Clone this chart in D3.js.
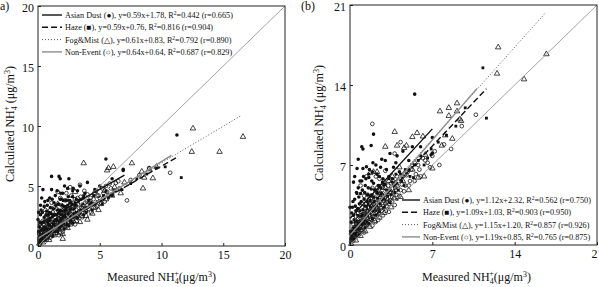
<!DOCTYPE html>
<html>
<head>
<meta charset="utf-8">
<script src="https://cdn.jsdelivr.net/npm/d3@7"></script>
<style>
  body { margin: 0; background: #fff; }
  svg text { font-family: "Liberation Serif", "Times New Roman", serif; fill: #111; }
</style>
</head>
<body>
<svg width="599" height="287"></svg>
<script>
// ---- panel (a) data ----
const ticksA = [0, 5, 10, 15, 20];
const nonA = [[0.1,0.5],[0.2,0.9],[0.3,0.4],[0.3,1.2],[0.4,0.8],[0.5,1.5],[0.5,0.6],[0.6,1.0],[0.7,1.9],[0.7,0.5],
  [0.8,1.3],[0.9,0.9],[0.9,2.2],[1.0,1.6],[1.0,0.7],[1.1,1.2],[1.2,2.0],[1.2,2.8],[1.3,1.0],[1.3,1.6],[1.4,2.4],
  [1.5,1.3],[1.5,3.1],[1.6,1.9],[1.7,0.9],[1.7,2.6],[1.8,1.5],[1.9,2.2],[1.9,3.4],[2.0,1.8],[2.0,1.2],[2.1,2.7],
  [2.2,2.0],[2.2,3.8],[2.3,1.6],[2.4,2.4],[2.5,3.0],[2.5,1.9],[2.6,2.6],[2.7,4.2],[2.8,2.2],[2.9,3.3],[3.0,2.5],
  [3.0,1.8],[3.1,3.0],[3.2,4.0],[3.3,2.7],[3.4,5.1],[3.5,3.2],[3.6,2.4],[3.8,3.6],[3.9,2.9],[4.0,4.3],[4.2,3.4],
  [4.3,2.8],[4.5,3.9],[4.7,4.6],[4.8,3.3],[5.0,4.0],[5.2,4.8],[5.4,3.7],[5.6,4.5],[5.8,5.2],[6.0,4.3],[6.3,5.25],
  [6.6,4.8],[7.2,3.8],[7.5,5.5],[8.2,5.9],[9.0,6.5],[10.7,6.1],[2.6,4.9],[1.6,4.5],[0.6,3.0],[1.1,3.6],
  [0.15,0.7],[0.25,1.4],[0.35,0.9],[0.45,1.8],[0.55,1.2],[0.65,0.8],[0.75,1.5],[0.85,2.0],[0.95,1.2],[1.05,2.5],
  [1.15,1.8],[1.25,1.3],[1.35,2.0],[1.45,1.7],[1.55,2.2],[1.65,2.9],[1.75,1.6],[1.85,2.5],[1.95,1.9],[2.05,3.0],
  [2.15,2.2],[2.25,1.8],[2.35,2.8],[2.45,2.0],[2.55,3.4],[2.65,2.3],[2.75,2.9],[2.85,3.6],[2.95,2.4],[3.05,3.3],
  [3.15,2.6],[3.25,3.5],[3.35,2.9],[3.45,4.1],[3.55,2.8],[3.65,3.4],[3.75,4.6],[3.85,3.2],[3.95,3.7],[4.1,3.1],
  [4.25,4.0],[4.4,3.5],[4.55,4.4],[4.65,3.2],[4.9,4.2],[5.1,3.6],[5.3,4.4],[5.5,5.0],[5.7,4.2],[5.9,4.8],[6.2,4.6],
  [6.5,5.4],[0.4,2.1],[0.8,2.6],[1.3,3.2],[1.8,4.0],[2.3,4.4],[0.2,1.6],[0.6,2.4],[1.0,3.0],
  [0.1,1.0],[0.2,0.3],[0.3,1.6],[0.4,0.5],[0.5,2.0],[0.6,1.4],[0.7,2.3],[0.8,0.8],[0.9,1.6],[1.0,2.0],[1.1,0.9],
  [1.2,1.5],[1.3,2.6],[1.4,1.3],[1.5,1.9],[1.6,1.5],[1.7,2.3],[1.8,1.9],[1.9,2.8],[2.0,2.1],[2.1,3.2],[2.2,1.6],
  [2.3,2.5],[2.4,2.9],[2.5,2.3],[2.6,3.7],[2.7,2.6],[2.8,3.2],[2.9,2.0],[3.0,3.9]];
const hazeA = [[0.1,0.3],[0.2,1.0],[0.3,0.6],[0.4,1.4],[0.5,0.9],[0.6,0.5],[0.7,1.3],[0.8,1.8],[0.9,1.0],[1.0,2.3],
  [1.1,1.5],[1.2,0.8],[1.3,2.1],[1.4,1.6],[1.5,2.6],[1.6,1.2],[1.7,2.0],[1.8,3.0],[1.9,1.7],[2.0,2.4],[2.1,1.4],
  [2.2,2.9],[2.3,2.2],[2.4,3.4],[2.5,1.7],[2.6,2.5],[2.7,3.1],[2.8,1.9],[2.9,2.7],[3.0,3.6],[3.2,2.3],[3.4,2.9],
  [3.6,3.5],[3.7,2.6],[3.9,3.2],[4.1,3.8],[4.4,3.0],[4.6,3.5],[5.0,3.8],[5.3,4.2],[5.7,4.0],[6.2,4.6],[6.8,4.7],
  [7.5,5.2],[8.0,5.6],[8.8,6.0],[9.6,6.5],[10.3,6.6],[11.6,5.7],[2.8,4.6],[1.9,3.9],[0.9,2.8],
  [0.15,0.5],[0.25,1.3],[0.35,0.8],[0.45,1.1],[0.55,1.6],[0.65,0.9],[0.75,2.0],[0.85,1.4],[0.95,1.7],[1.05,1.2],
  [1.15,2.4],[1.25,1.8],[1.35,1.2],[1.45,2.2],[1.55,1.6],[1.65,2.7],[1.75,1.5],[1.85,2.2],[1.95,2.9],[2.05,1.9],
  [2.15,2.6],[2.25,3.3],[2.35,1.8],[2.45,2.7],[2.55,3.8],[2.65,2.1],[2.75,3.5],[2.85,2.4],[2.95,3.1],[3.1,2.8],
  [3.3,3.8],[3.5,3.0],[3.7,4.2],[3.9,2.8],[4.2,3.4],[4.5,4.2],[4.8,3.7],[5.2,3.5],[5.5,4.6],[6.0,4.2]];
const dustA = [[0.0,2.2],[0.1,1.6],[0.2,2.6],[0.25,3.0],[0.3,1.9],[0.4,4.7],[0.5,2.4],[0.5,3.3],[0.6,1.5],[0.7,2.9],
  [0.8,3.8],[0.9,2.1],[1.0,3.2],[1.1,5.8],[1.1,4.7],[1.2,2.6],[1.3,3.6],[1.4,4.2],[1.5,2.2],[1.6,3.0],[1.7,5.8],
  [1.8,5.6],[1.8,3.9],[1.9,2.6],[2.0,4.4],[2.1,3.3],[2.2,2.4],[2.3,3.8],[2.4,4.8],[2.6,3.0],[2.8,4.1],[3.0,3.4],
  [3.2,4.6],[3.5,3.9],[3.8,4.4],[4.0,5.3],[4.3,3.6],[4.6,4.7],[5.0,5.0],[5.5,7.25],[6.0,5.6],[6.9,6.3],[6.9,6.4],
  [11.25,9.25],[2.5,5.6],[0.3,4.0],
  [0.05,1.2],[0.15,2.0],[0.2,3.4],[0.35,2.8],[0.45,2.0],[0.55,3.7],[0.65,2.6],[0.75,3.4],[0.85,2.6],[0.95,4.0],
  [1.05,2.7],[1.15,3.9],[1.25,3.1],[1.35,2.6],[1.45,3.4],[1.55,4.6],[1.65,3.5],[1.75,2.9],[1.85,4.4],[1.95,3.4],
  [2.05,3.8],[2.15,5.0],[2.25,3.0],[2.45,4.1],[2.65,3.6],[2.85,4.8],[3.1,3.9],[3.4,5.0],[3.7,4.0],[0.05,2.8]];
const fogA = [[0.1,0.2],[0.3,0.5],[0.5,1.1],[0.7,0.7],[0.8,1.6],[1.0,1.1],[1.2,1.8],[1.3,0.9],[1.5,2.0],[1.6,3.5],
  [1.7,1.4],[1.9,2.5],[2.0,1.0],[2.2,2.3],[2.4,1.5],[2.5,3.3],[2.7,2.0],[2.9,2.9],[3.1,2.1],[3.3,3.4],[3.5,2.5],
  [3.7,6.9],[3.8,3.0],[4.0,2.2],[4.2,3.7],[4.5,3.2],[4.8,4.2],[5.1,3.5],[5.4,4.6],[5.6,6.3],[5.7,6.5],[6.1,6.6],
  [6.2,4.9],[6.7,4.4],[7.0,5.3],[7.6,6.9],[8.4,6.2],[8.5,4.8],[8.6,5.7],[9.0,6.4],[9.3,5.65],[9.6,6.6],
  [12.45,7.85],[12.55,9.8],[14.7,7.85],[16.6,9.1],[3.0,4.5],[2.0,0.6],
  [0.2,0.8],[0.4,0.3],[0.6,1.3],[0.9,0.5],[1.1,1.4],[1.4,1.1],[1.6,2.3],[1.8,1.1],[2.1,1.7],[2.3,2.8],[2.6,1.8],
  [2.8,2.5],[3.2,2.6],[3.4,2.0],[3.6,3.1],[3.9,2.5],[4.4,2.7],[4.9,3.0],[5.5,3.9],[6.0,4.2]];
// fitted lines: slope, intercept, stats, x range of the drawn line
const fitsA = [
  {name: "Asian Dust (●)", slope: 0.59, icpt: 1.78, r2: "0.442", r: "0.665", xEnd: 7.0},
  {name: "Haze (■)",       slope: 0.59, icpt: 0.76, r2: "0.816", r: "0.904", xEnd: 11.3},
  {name: "Fog&Mist (△)",   slope: 0.61, icpt: 0.83, r2: "0.792", r: "0.890", xEnd: 16.5},
  {name: "Non-Event (○)",  slope: 0.64, icpt: 0.64, r2: "0.687", r: "0.829", xEnd: 10.8}
];

// ---- panel (b) data ----
const ticksB = [0, 7, 14, 21];
const nonB = [[0.1,0.3],[0.2,0.8],[0.3,0.4],[0.4,1.2],[0.5,0.7],[0.6,1.6],[0.7,1.0],[0.8,2.0],[0.9,1.3],[1.0,2.6],
  [1.1,1.6],[1.2,1.1],[1.3,2.2],[1.4,3.0],[1.5,1.8],[1.6,2.6],[1.7,3.6],[1.8,2.2],[1.9,1.7],[2.0,3.1],[2.1,2.5],
  [2.2,4.0],[2.3,2.9],[2.4,2.2],[2.5,3.5],[2.6,4.5],[2.7,3.0],[2.8,2.6],[2.9,3.9],[3.0,5.0],[3.1,3.4],[3.2,4.4],
  [3.3,2.9],[3.4,3.9],[3.5,5.4],[3.6,4.2],[3.8,3.5],[3.9,4.8],[4.0,6.0],[4.2,4.3],[4.4,5.3],[4.3,9.0],[4.6,4.7],
  [4.8,6.1],[5.0,5.2],[5.2,6.6],[5.5,5.6],[5.8,7.0],[6.0,6.0],[6.4,7.4],[6.8,6.8],[7.2,8.2],[7.6,7.0],[8.0,8.8],
  [8.6,8.4],[9.5,10.4],[10.7,11.4],[3.8,8.0],[2.2,6.0],[1.2,4.3],[0.5,2.5],[1.9,10.6],
  [0.15,0.6],[0.25,1.2],[0.35,0.8],[0.45,1.6],[0.55,1.0],[0.65,2.0],[0.75,1.4],[0.85,2.4],[0.95,1.7],[1.05,1.2],
  [1.15,2.2],[1.25,2.8],[1.35,1.7],[1.45,2.4],[1.55,3.3],[1.65,2.0],[1.75,2.9],[1.85,3.8],[1.95,2.5],[2.05,3.5],
  [2.15,2.0],[2.25,3.1],[2.35,4.3],[2.45,2.7],[2.55,3.9],[2.65,3.2],[2.75,4.8],[2.85,3.4],[2.95,4.4],[3.05,3.0],
  [3.15,4.0],[3.25,5.2],[3.35,3.6],[3.45,4.6],[3.55,3.8],[3.65,5.6],[3.75,4.1],[3.85,5.0],[3.95,4.4],[4.1,5.6],
  [4.3,4.8],[4.5,6.0],[4.7,5.2],[4.9,6.4],[5.1,5.6],[5.3,7.0],[5.6,6.2],[5.9,6.6],[6.2,7.6],[6.6,7.2],[7.0,7.8],
  [0.3,1.8],[0.7,2.8],[1.1,3.6],[1.5,4.4],[1.9,5.0],[2.5,5.8],[3.0,6.5],[0.9,5.2],[1.4,6.0],
  [0.1,1.0],[0.2,0.4],[0.3,1.4],[0.4,0.7],[0.5,1.9],[0.6,1.2],[0.7,2.3],[0.8,1.6],[0.9,2.9],[1.0,2.1],[1.1,2.7],
  [1.2,1.7],[1.3,3.2],[1.4,2.3],[1.5,3.0],[1.6,4.0],[1.7,2.5],[1.8,3.4],[1.9,4.3],[2.0,2.7],[2.1,4.0],[2.2,3.3],
  [2.3,5.0],[2.4,3.0],[2.5,4.4],[2.6,3.8],[2.7,5.2],[2.8,4.3],[2.9,5.6],[3.0,3.6]];
const hazeB = [[0.1,0.6],[0.2,1.1],[0.3,0.5],[0.4,1.6],[0.5,1.0],[0.6,2.1],[0.7,1.4],[0.8,0.9],[0.9,2.5],[1.0,1.8],
  [1.1,3.1],[1.2,2.2],[1.3,1.5],[1.4,3.4],[1.5,2.6],[1.6,1.9],[1.7,3.9],[1.8,3.0],[1.9,2.3],[2.0,4.2],[2.1,3.4],
  [2.2,2.6],[2.3,4.6],[2.4,3.7],[2.5,2.9],[2.6,5.0],[2.7,4.0],[2.9,3.3],[3.0,5.3],[3.2,4.3],[3.4,3.7],[3.6,5.5],
  [3.8,4.6],[4.0,4.0],[4.3,6.2],[4.6,5.2],[5.0,6.6],[5.4,5.9],[5.8,7.4],[6.3,7.0],[6.9,8.4],[7.5,9.0],[8.2,9.6],
  [9.0,10.4],[9.8,12.0],[11.3,15.5],[11.6,11.1],[0.6,4.5],[1.6,6.2],
  [0.15,0.9],[0.25,1.5],[0.35,1.0],[0.45,2.0],[0.55,1.4],[0.65,2.6],[0.75,1.9],[0.85,3.0],[0.95,2.0],[1.05,2.6],
  [1.15,1.9],[1.25,3.4],[1.35,2.5],[1.45,2.0],[1.55,3.6],[1.65,2.8],[1.75,3.3],[1.85,4.4],[1.95,3.0],[2.05,3.8],
  [2.15,4.8],[2.25,3.5],[2.35,4.1],[2.45,5.2],[2.55,3.6],[2.65,4.5],[2.75,5.5],[2.85,4.0],[3.1,4.8],[3.3,5.8],
  [3.5,4.4],[3.7,5.2],[3.9,6.2],[4.1,4.8],[4.4,5.6],[4.7,6.6],[5.1,6.0],[5.5,7.0],[6.0,7.8],[6.6,7.6]];
const dustB = [[0.0,3.3],[0.2,3.3],[0.1,2.0],[0.3,2.6],[0.4,4.0],[0.5,3.0],[0.6,6.7],[0.7,5.0],[0.8,3.6],[0.9,4.5],
  [1.0,8.6],[1.0,5.6],[1.1,6.7],[1.2,4.0],[1.3,5.2],[1.4,6.85],[1.5,4.4],[1.6,5.9],[1.8,8.7],[1.8,4.9],[1.9,6.4],
  [2.0,5.4],[2.2,7.0],[2.3,4.6],[2.5,6.0],[2.7,7.5],[2.9,5.3],[3.1,6.6],[3.4,8.0],[3.6,5.8],[3.9,7.2],[4.2,6.4],
  [4.5,8.2],[5.0,7.4],[5.5,13.2],[5.3,8.6],[6.0,8.6],[6.9,7.9],[7.0,9.4],[7.0,8.05],[0.7,7.5],[0.3,5.5],[2.0,9.7],
  [1.1,8.4],
  [0.05,1.2],[0.15,2.8],[0.25,3.8],[0.35,2.2],[0.45,3.4],[0.55,4.6],[0.65,3.2],[0.75,4.2],[0.85,5.6],[0.95,3.8],
  [1.05,4.8],[1.15,6.0],[1.25,4.6],[1.35,5.8],[1.45,3.8],[1.55,5.0],[1.65,6.6],[1.75,4.3],[1.85,5.6],[1.95,7.2],
  [2.1,4.8],[2.3,6.2],[2.4,5.2],[2.6,6.8],[2.8,5.8],[3.0,7.4],[3.3,6.0],[3.7,6.8],[4.0,7.8],[0.4,6.0]];
const fogB = [[0.1,0.1],[0.3,0.9],[0.5,0.4],[0.7,1.5],[0.9,0.8],[1.1,2.0],[1.3,1.2],[1.5,2.9],[1.7,6.3],[1.7,1.6],
  [1.9,3.5],[2.0,6.4],[2.1,2.1],[2.3,6.4],[2.3,3.2],[2.5,2.4],[2.7,4.4],[2.9,2.8],[3.0,8.6],[3.1,3.8],[3.3,5.6],
  [3.5,3.3],[3.7,4.6],[3.8,9.9],[4.0,8.7],[4.0,5.2],[4.3,4.2],[4.6,8.5],[4.6,6.2],[5.0,4.8],[5.3,9.45],[5.3,6.6],
  [5.7,9.8],[5.8,5.9],[6.2,9.5],[6.4,7.9],[7.0,6.7],[7.65,11.7],[7.8,8.7],[8.4,12.0],[8.4,11.3],[8.7,9.3],
  [9.1,12.4],[9.1,11.7],[9.35,11.0],[9.45,10.85],[12.5,15.0],[12.6,17.3],[14.8,14.5],[16.7,16.7],[3.2,4.0],
  [6.3,6.0],[8.1,9.6],[4.8,8.7],
  [0.2,0.6],[0.4,1.2],[0.6,0.9],[0.8,1.9],[1.0,1.3],[1.2,2.6],[1.4,1.9],[1.6,3.2],[1.8,2.3],[2.0,3.9],[2.2,2.8],
  [2.4,4.6],[2.6,3.3],[2.8,5.0],[3.4,4.8],[3.6,6.0],[3.9,5.4],[4.2,6.8],[4.5,5.6],[5.5,7.2]];
const fitsB = [
  {name: "Asian Dust (●)", slope: 1.12, icpt: 2.32, r2: "0.562", r: "0.750", xEnd: 7.0},
  {name: "Haze (■)",       slope: 1.09, icpt: 1.03, r2: "0.903", r: "0.950", xEnd: 11.6},
  {name: "Fog&Mist (△)",   slope: 1.15, icpt: 1.20, r2: "0.857", r: "0.926", xEnd: 16.6},
  {name: "Non-Event (○)",  slope: 1.19, icpt: 0.85, r2: "0.765", r: "0.875", xEnd: 10.8}
];

// line looks per fit (same order in both panels)
const fitStyle = [
  {stroke: "#111", width: 1.4, dash: null},
  {stroke: "#111", width: 1.4, dash: "6,3"},
  {stroke: "#444", width: 0.9, dash: "1,2"},
  {stroke: "#8c8c8c", width: 1.4, dash: null}
];

const svg = d3.select("svg");

// NH4+ with the 4 below and + above
function nh4(text, before, after) {
  text.append("tspan").text(before + "NH");
  text.append("tspan").attr("font-size", 8).attr("dy", 3).text("4");
  text.append("tspan").attr("font-size", 8).attr("dx", -4.5).attr("dy", -8).text("+");
  text.append("tspan").attr("dy", 5).text(after + "(μg/m");
  text.append("tspan").attr("font-size", 8).attr("dy", -4).text("3");
  text.append("tspan").attr("dy", 4).text(")");
}

function drawPanel(p) {
  const x = d3.scaleLinear().domain([0, p.max]).range(p.xr);
  const y = d3.scaleLinear().domain([0, p.max]).range(p.yr);
  const g = svg.append("g");

  // points
  const kinds = [
    {data: p.non,  type: d3.symbolCircle,   size: 11, fill: "none", stroke: "#151515"},
    {data: p.fog,  type: d3.symbolTriangle, size: 13, fill: "none", stroke: "#151515"},
    {data: p.haze, type: d3.symbolSquare,   size: 8,  fill: "#111", stroke: "none"},
    {data: p.dust, type: d3.symbolCircle,   size: 10, fill: "#111", stroke: "none"}
  ];
  kinds.forEach(k => {
    g.append("g").selectAll("path")
      .data(k.data)
      .join("path")
      .attr("transform", d => `translate(${x(d[0])},${y(d[1])})`)
      .attr("d", d3.symbol().type(k.type).size(k.size))
      .attr("fill", k.fill)
      .attr("stroke", k.stroke)
      .attr("stroke-width", 0.8);
  });

  // 1:1 line
  g.append("line")
    .attr("x1", x(0)).attr("y1", y(0))
    .attr("x2", x(p.max)).attr("y2", y(p.max))
    .attr("stroke", "#999").attr("stroke-width", 0.9);

  // regression lines
  p.fits.forEach((f, i) => {
    const s = fitStyle[i];
    g.append("line")
      .attr("x1", x(0)).attr("y1", y(f.icpt))
      .attr("x2", x(f.xEnd)).attr("y2", y(f.slope * f.xEnd + f.icpt))
      .attr("stroke", s.stroke).attr("stroke-width", s.width)
      .attr("stroke-dasharray", s.dash);
  });

  // frame
  g.append("rect")
    .attr("x", p.xr[0]).attr("y", p.yr[1])
    .attr("width", p.xr[1] - p.xr[0]).attr("height", p.yr[0] - p.yr[1])
    .attr("fill", "none").attr("stroke", "#222").attr("stroke-width", 1);

  // axes, ticks pointing in
  const ax = g.append("g").attr("transform", `translate(0,${p.yr[0]})`)
    .call(d3.axisBottom(x).tickValues(p.ticks).tickFormat(d3.format("d")).tickSize(-3).tickPadding(4));
  const ay = g.append("g").attr("transform", `translate(${p.xr[0]},0)`)
    .call(d3.axisLeft(y).tickValues(p.ticks).tickFormat(d3.format("d")).tickSize(-3).tickPadding(4));
  [ax, ay].forEach(a => {
    a.select(".domain").remove();
    a.selectAll("text").attr("font-size", 12).attr("font-family", "Liberation Serif, serif");
    a.selectAll("line").attr("stroke", "#222");
  });
  ay.selectAll("text").attr("dy", "0.45em");

  // axis titles
  const xt = g.append("text")
    .attr("x", (p.xr[0] + p.xr[1]) / 2 + p.xTitleShift).attr("y", 281)
    .attr("text-anchor", "middle").attr("font-size", 12);
  nh4(xt, "Measured ", "");
  const yt = g.append("text")
    .attr("transform", `translate(${p.yTitleX},${(p.yr[0] + p.yr[1]) / 2 - 2}) rotate(-90)`)
    .attr("text-anchor", "middle").attr("font-size", 12);
  nh4(yt, "Calculated ", " ");

  // panel tag
  g.append("text").attr("x", p.tag[1]).attr("y", 10).attr("font-size", 12).text(p.tag[0]);

  // legend
  p.fits.forEach((f, i) => {
    const s = fitStyle[i];
    const ly = p.legY + i * 12.3;
    g.append("line")
      .attr("x1", p.legX).attr("x2", p.legX + p.legLen)
      .attr("y1", ly).attr("y2", ly)
      .attr("stroke", s.stroke).attr("stroke-width", s.width)
      .attr("stroke-dasharray", s.dash);
    const t = g.append("text")
      .attr("x", p.legX + p.legLen + 3).attr("y", ly + 3)
      .attr("font-size", 8.2);
    const sign = f.icpt >= 0 ? "+" : "";
    t.append("tspan").text(`${f.name}, y=${f.slope.toFixed(2)}x${sign}${f.icpt.toFixed(2)}, R`);
    t.append("tspan").attr("font-size", 5.5).attr("dy", -3).text("2");
    t.append("tspan").attr("dy", 3).text(`=${f.r2} (r=${f.r})`);
  });
}

drawPanel({
  max: 20, xr: [38, 285], yr: [246, 6], ticks: ticksA,
  non: nonA, haze: hazeA, dust: dustA, fog: fogA, fits: fitsA,
  legX: 42, legY: 15, legLen: 20, yTitleX: 14, xTitleShift: 0, tag: ["a)", 0]
});
drawPanel({
  max: 21, xr: [350, 597], yr: [245, 5], ticks: ticksB,
  non: nonB, haze: hazeB, dust: dustB, fog: fogB, fits: fitsB,
  legX: 402, legY: 200, legLen: 18, yTitleX: 323, xTitleShift: 3, tag: ["(b)", 301]
});
</script>
</body>
</html>
